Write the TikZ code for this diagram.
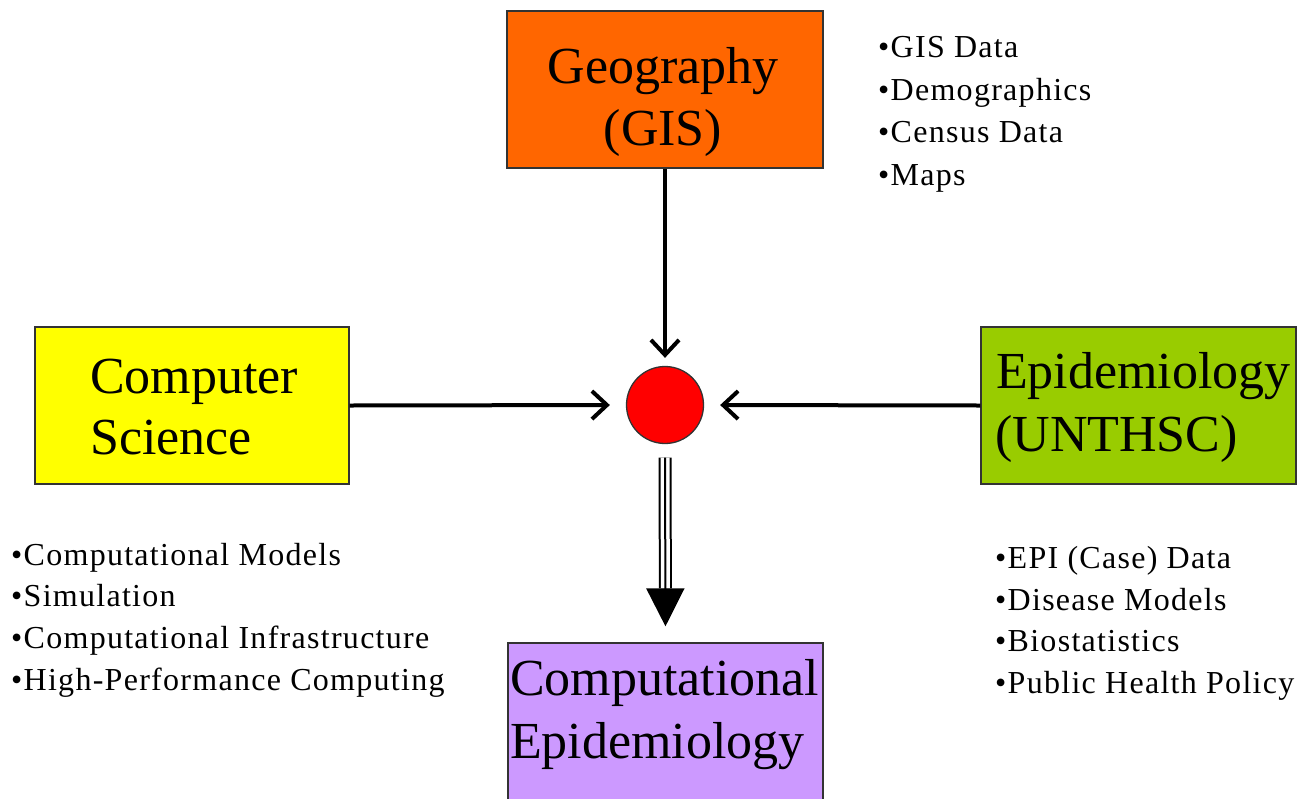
\documentclass[tikz,border=0pt]{standalone}
\usepackage{fontspec}
\setmainfont{Liberation Serif}
\newfontfamily\listfont[LetterSpace=4]{Liberation Serif}
\usetikzlibrary{arrows.meta}
\definecolor{geoorange}{HTML}{FF6600}
\definecolor{csyellow}{HTML}{FFFF00}
\definecolor{epigreen}{HTML}{99CC00}
\definecolor{celav}{HTML}{CC99FF}
\begin{document}
\begin{tikzpicture}[x=1pt,y=-1pt,
  box/.style={draw=black!80, line width=1.4pt, inner sep=0pt, rectangle},
  big/.style={inner sep=0pt, font=\fontsize{52}{63}\selectfont},
  item/.style={inner sep=0pt, anchor=base west, font=\listfont\fontsize{32}{42}\selectfont},
  conn/.style={line width=4pt, -{Straight Barb[length=15pt,width=28pt]}}]
\useasboundingbox (0,0) rectangle (1308,798);
\clip (0,0) rectangle (1308,798);
\fill[white] (0,0) rectangle (1308,798);
% boxes
\node[box, fill=geoorange, minimum width=316pt, minimum height=157pt] (geo) at (665,89.5) {};
\node[box, fill=csyellow, minimum width=314pt, minimum height=157pt] (cs) at (192,405.5) {};
\node[box, fill=epigreen, minimum width=315pt, minimum height=157pt] (epi) at (1138.5,405.5) {};
\node[box, fill=celav, minimum width=315pt, minimum height=177pt] (ce) at (665.5,731.5) {};
\node[circle, fill=red, draw=black!80, line width=1.3pt, minimum size=77pt, inner sep=0pt] (hub) at (665,405) {};
% box labels
\node[big, anchor=base] (geo1) at (663,83) {Geography};
\node[big, anchor=base] (geo2) at (663,145) {(GIS)};
\node[big, anchor=base west] (cs1) at (90,393) {Computer};
\node[big, anchor=base west] (cs2) at (90,454) {Science};
\node[big, anchor=base west] (epi1) at (996,388) {Epidemiology};
\node[big, anchor=base west] (epi2) at (995,451) {(UNTHSC)};
\node[big, anchor=base west] (ce1) at (510,695) {Computational};
\node[big, anchor=base west] (ce2) at (510,758) {Epidemiology};
% connectors
\draw[conn, shorten >=8pt] (geo.south) -- (hub.north);
\draw[conn, shorten >=16pt] (cs.east) -- (hub.west);
\draw[conn, shorten >=16pt] (epi.west) -- (hub.east);
\draw[line width=2pt, double=white, double distance=9pt, shorten <=13.5pt, shorten >=54pt] (hub.south) -- (ce.north);
\draw[line width=2pt, shorten <=13.5pt, shorten >=16pt, -{Triangle[length=38pt,width=38pt]}] (hub.south) -- (ce.north);
% lists
\node[item] (g1) at (878,57) {•GIS Data};
\node[item] (g2) at (878,100) {•Demographics};
\node[item] (g3) at (878,142) {•Census Data};
\node[item] (g4) at (878,185) {•Maps};
\node[item] (c1) at (11,565) {•Computational Models};
\node[item] (c2) at (11,606) {•Simulation};
\node[item] (c3) at (11,648) {•Computational Infrastructure};
\node[item] (c4) at (11,690) {•High-Performance Computing};
\node[item] (e1) at (995,568) {•EPI (Case) Data};
\node[item] (e2) at (995,610) {•Disease Models};
\node[item] (e3) at (995,651) {•Biostatistics};
\node[item] (e4) at (995,693) {•Public Health Policy};
\end{tikzpicture}
\end{document}
